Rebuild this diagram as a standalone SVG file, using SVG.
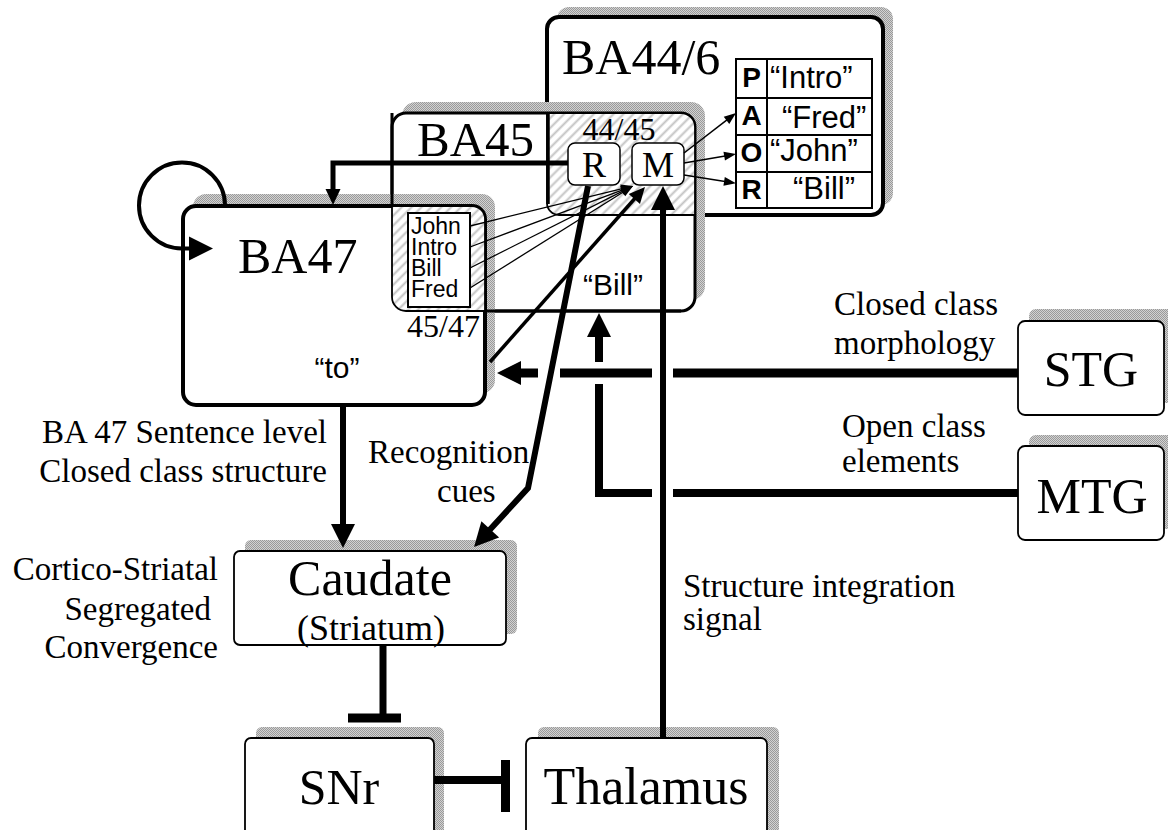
<svg xmlns="http://www.w3.org/2000/svg" width="1168" height="830" viewBox="0 0 1168 830">
<defs>
<pattern id="stip" width="2" height="2" patternUnits="userSpaceOnUse">
<rect width="2" height="2" fill="#d2d2d2"/>
<rect width="1" height="1" fill="#9a9a9a"/>
<rect x="1" y="1" width="1" height="1" fill="#9a9a9a"/>
</pattern>
<pattern id="hatch" width="7" height="7" patternUnits="userSpaceOnUse" patternTransform="rotate(45)">
<rect width="7" height="7" fill="#ffffff"/>
<line x1="3.5" y1="0" x2="3.5" y2="7" stroke="#c4c4c4" stroke-width="2"/>
</pattern>
<marker id="aL" markerUnits="userSpaceOnUse" markerWidth="24" markerHeight="24" refX="2" refY="12" orient="auto" overflow="visible"><path d="M0,0 L24,12 L0,24 z" fill="#000"/></marker>
<marker id="aM" markerUnits="userSpaceOnUse" markerWidth="16" markerHeight="16" refX="2" refY="7.5" orient="auto" overflow="visible"><path d="M0,0 L16,7.5 L0,15 z" fill="#000"/></marker>
<marker id="aS" markerUnits="userSpaceOnUse" markerWidth="12" markerHeight="10" refX="1" refY="4.5" orient="auto" overflow="visible"><path d="M0,0 L12,4.5 L0,9 z" fill="#000"/></marker>
</defs>
<style>
.sh{fill:url(#stip);stroke:none}
.box{fill:#fff;stroke:#000}
.serif{font-family:"Liberation Serif","Times New Roman",serif;fill:#000}
.sans{font-family:"Liberation Sans",Arial,sans-serif;fill:#000}
.ln{fill:none;stroke:#000;stroke-linecap:butt}
.hat{fill:url(#hatch);stroke:#000;stroke-width:1.8}
</style>
<rect width="1168" height="830" fill="#fff"/>

<g id="BA44_6">
<rect class="sh" x="557" y="7" width="336" height="198" rx="12"/>
<rect class="box" x="547" y="17" width="336" height="198" rx="12" stroke-width="4"/>
<text class="serif" x="562" y="74" font-size="50">BA44/6</text>
<g id="PAOR">
<rect x="736" y="59" width="136" height="149" fill="#fff" stroke="#000" stroke-width="2"/>
<line x1="767" y1="59" x2="767" y2="208" stroke="#000" stroke-width="2"/>
<line x1="736" y1="98" x2="872" y2="98" stroke="#000" stroke-width="2"/>
<line x1="736" y1="135" x2="872" y2="135" stroke="#000" stroke-width="2"/>
<line x1="736" y1="172" x2="872" y2="172" stroke="#000" stroke-width="2"/>
<g class="sans" font-size="28" font-weight="bold" text-anchor="middle">
<text x="751.5" y="87">P</text>
<text x="751.5" y="125">A</text>
<text x="751.5" y="162">O</text>
<text x="751.5" y="199">R</text>
</g>
<g class="sans" font-size="31">
<text x="770" y="88">“Intro”</text>
<text x="782" y="128">“Fred”</text>
<text x="770" y="161">“John”</text>
<text x="793" y="199">“Bill”</text>
</g>
</g>
</g>

<g id="BA45">
<rect class="sh" x="402" y="102" width="303" height="198" rx="14"/>
<rect class="box" x="392" y="113" width="303" height="198" rx="14" stroke-width="3"/>
<path class="hat" d="M547,113 L681,113 A14,14 0 0 1 695,127 L695,215 L559,215 A12,12 0 0 1 547,203 Z"/>
<line x1="548" y1="113" x2="548" y2="204" stroke="#000" stroke-width="3.5"/>
<text class="serif" x="417" y="156" font-size="49">BA45</text>
<text class="serif" x="619" y="140" font-size="32" text-anchor="middle">44/45</text>
<text class="sans" x="583" y="295" font-size="30">“Bill”</text>
<g id="R">
<rect x="568" y="143" width="52" height="42" rx="7" fill="#fff" stroke="#000" stroke-width="1.5"/>
<text class="serif" x="594" y="177" font-size="36" text-anchor="middle">R</text>
</g>
<g id="M">
<rect x="632" y="143" width="52" height="42" rx="7" fill="#fff" stroke="#000" stroke-width="1.5"/>
<text class="serif" x="658" y="177" font-size="36" text-anchor="middle">M</text>
</g>
</g>

<g id="BA47">
<rect class="sh" x="193" y="194" width="302" height="199" rx="13"/>
<path class="ln" d="M392,113 L392,206 M485,311 L681,311" stroke-width="3"/>
<rect class="box" x="183" y="206" width="302" height="199" rx="13" stroke-width="4"/>
<path class="hat" d="M392,206 L472,206 A13,13 0 0 1 485,219 L485,311 L406,311 A14,14 0 0 1 392,297 Z"/>
<text class="serif" x="238" y="273" font-size="50">BA47</text>
<text class="serif" x="407" y="337" font-size="32">45/47</text>
<text class="sans" x="337" y="378" font-size="30" text-anchor="middle">“to”</text>
<g id="list">
<rect x="408" y="213" width="62" height="94" fill="#fff" stroke="#000" stroke-width="2"/>
<g class="sans" font-size="23">
<text x="411" y="234">John</text>
<text x="411" y="255">Intro</text>
<text x="411" y="276">Bill</text>
<text x="411" y="297">Fred</text>
</g>
</g>
</g>

<g id="STG">
<rect class="sh" x="1029" y="309" width="146" height="94" rx="7"/>
<rect class="box" x="1018" y="321" width="146" height="94" rx="7" stroke-width="1.8"/>
<text class="serif" x="1091" y="386" font-size="50" text-anchor="middle">STG</text>
</g>
<g id="MTG">
<rect class="sh" x="1029" y="435" width="146" height="94" rx="7"/>
<rect class="box" x="1018" y="446" width="146" height="94" rx="7" stroke-width="1.8"/>
<text class="serif" x="1092" y="513" font-size="50" text-anchor="middle">MTG</text>
</g>
<g id="Caudate">
<rect class="sh" x="245" y="540" width="272" height="94" rx="6"/>
<rect class="box" x="234" y="551" width="272" height="94" rx="6" stroke-width="1.8"/>
<text class="serif" x="370" y="595" font-size="50" text-anchor="middle">Caudate</text>
<text class="serif" x="371" y="640" font-size="36" text-anchor="middle">(Striatum)</text>
</g>
<g id="SNr">
<rect class="sh" x="256" y="727" width="188" height="120" rx="6"/>
<rect class="box" x="245" y="738" width="189" height="120" rx="6" stroke-width="1.8"/>
<text class="serif" x="339" y="804" font-size="50" text-anchor="middle">SNr</text>
</g>
<g id="Thalamus">
<rect class="sh" x="538" y="727" width="241" height="120" rx="6"/>
<rect class="box" x="526" y="738" width="241" height="120" rx="6" stroke-width="1.8"/>
<text class="serif" x="646" y="804" font-size="52" text-anchor="middle">Thalamus</text>
</g>

<g id="connectors">
<!-- BA47 self loop -->
<path class="ln" d="M225,205.5 A43,43 0 1 0 182,248.5 L191,248.5" stroke-width="4" marker-end="url(#aL)"/>
<!-- R to BA47 -->
<path class="ln" d="M568,163 L333,163 L333,191" stroke-width="5" stroke-linejoin="miter" marker-end="url(#aM)"/>
<!-- M to PAOR -->
<line class="ln" x1="684" y1="153" x2="727.3" y2="119.7" stroke-width="1.5" marker-end="url(#aS)"/>
<line class="ln" x1="684" y1="163" x2="725.2" y2="155.9" stroke-width="1.5" marker-end="url(#aS)"/>
<line class="ln" x1="684" y1="175" x2="725.1" y2="181.5" stroke-width="1.5" marker-end="url(#aS)"/>
<!-- list to M -->
<line class="ln" x1="470" y1="226" x2="622.3" y2="188.6" stroke-width="1.3" marker-end="url(#aS)"/>
<line class="ln" x1="470" y1="247" x2="622.7" y2="189.9" stroke-width="1.3" marker-end="url(#aS)"/>
<line class="ln" x1="470" y1="268" x2="623.2" y2="190.9" stroke-width="1.3" marker-end="url(#aS)"/>
<line class="ln" x1="470" y1="288" x2="623.7" y2="191.8" stroke-width="1.3" marker-end="url(#aS)"/>
<!-- BA47 to M -->
<line class="ln" x1="490" y1="362" x2="635.7" y2="197.5" stroke-width="3.5" marker-end="url(#aM)"/>
<!-- R to Caudate (recognition cues) -->
<path class="ln" d="M588,186 L528,488 L488.9,530.8" stroke-width="6" stroke-linejoin="miter" marker-end="url(#aL)"/>
<!-- BA47 to Caudate -->
<line class="ln" x1="343" y1="405" x2="343" y2="526" stroke-width="6" marker-end="url(#aL)"/>
<!-- Thalamus to M -->
<line class="ln" x1="663" y1="738" x2="663" y2="208" stroke-width="6" marker-end="url(#aL)"/>
<!-- STG to BA47 -->
<line class="ln" x1="1018" y1="373" x2="673" y2="373" stroke-width="9"/>
<line class="ln" x1="652" y1="373" x2="560" y2="373" stroke-width="9"/>
<line class="ln" x1="538" y1="373" x2="519" y2="373" stroke-width="9" marker-end="url(#aL)"/>
<!-- MTG to BA45 -->
<line class="ln" x1="1018" y1="493" x2="673" y2="493" stroke-width="8"/>
<path class="ln" d="M652,493 L599,493 L599,384" stroke-width="8" stroke-linejoin="miter"/>
<line class="ln" x1="599" y1="362" x2="599" y2="335" stroke-width="8" marker-end="url(#aL)"/>
<!-- Caudate -| SNr -->
<line class="ln" x1="383" y1="645" x2="383" y2="718" stroke-width="7"/>
<line class="ln" x1="348" y1="718" x2="401" y2="718" stroke-width="9"/>
<!-- SNr -| Thalamus -->
<line class="ln" x1="434" y1="780" x2="505" y2="780" stroke-width="8"/>
<line class="ln" x1="505.5" y1="760" x2="505.5" y2="812" stroke-width="9"/>
</g>

<g id="labels" class="serif" font-size="33">
<text x="327" y="443" text-anchor="end">BA 47 Sentence level</text>
<text x="327" y="482" text-anchor="end">Closed class structure</text>
<text x="368" y="463">Recognition</text>
<text x="437" y="502">cues</text>
<text x="218" y="580" text-anchor="end">Cortico-Striatal</text>
<text x="211" y="620" text-anchor="end">Segregated</text>
<text x="218" y="658" text-anchor="end">Convergence</text>
<text x="834" y="315">Closed class</text>
<text x="834" y="354">morphology</text>
<text x="842" y="437">Open class</text>
<text x="842" y="472">elements</text>
<text x="683" y="597">Structure integration</text>
<text x="683" y="630">signal</text>
</g>
</svg>
